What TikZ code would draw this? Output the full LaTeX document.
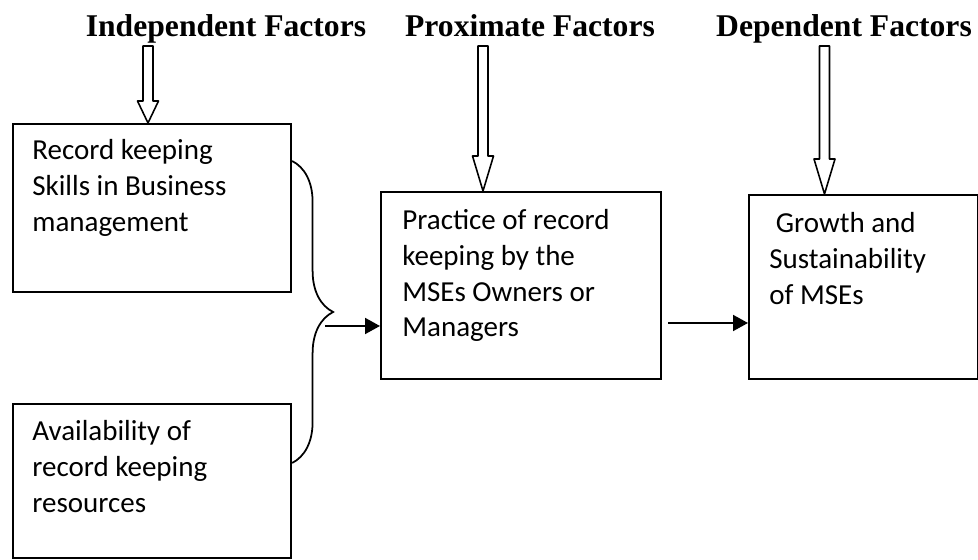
\documentclass[tikz,border=0pt]{standalone}
\usepackage{fontspec}
\setmainfont{Liberation Serif}
\newfontfamily\bodyfont{Carlito}
\usepackage{tikz}
\usetikzlibrary{arrows.meta, positioning, calc, decorations.pathreplacing}
\tikzset{
  factorhead/.style={font=\fontsize{18}{21}\selectfont\bfseries,
    inner sep=0pt, anchor=base},
  factor/.style={rectangle, draw, line width=1.2pt, anchor=north west,
    inner sep=0pt},
  factortext/.style={font=\bodyfont\fontsize{16.5}{20.3}\selectfont,
    align=left, inner sep=0pt, anchor=north west},
  arrow/.style={-{Triangle[length=0.3cm, width=0.32cm]}, line width=1.1pt},
  bracket/.style={decorate, decoration={brace, amplitude=0.82cm},
    line width=1pt},
  hollow/.style={line width=0.9pt, line join=round, to path={
    ($(\tikztostart)+(-0.1,0)$) -- ($(\tikztotarget)+(-0.1,#1)$)
    -- ($(\tikztotarget)+(-0.21,#1)$) -- (\tikztotarget)
    -- ($(\tikztotarget)+(0.21,#1)$) -- ($(\tikztotarget)+(0.1,#1)$)
    -- ($(\tikztostart)+(0.1,0)$) -- cycle}}
}

\begin{document}
\begin{tikzpicture}
  \useasboundingbox (0,0) rectangle (19.56,11.2);
  % Column headings
  \node[factorhead] (indep) at (4.52,10.46) {Independent Factors};
  \node[factorhead] (prox) at (10.6,10.46) {Proximate Factors};
  \node[factorhead] (dep) at (16.88,10.46) {Dependent Factors};

  % Boxes
  \node[factor, minimum width=5.56cm, minimum height=3.36cm] (skills) at (0.24,8.74) {};
  \node[factor, minimum width=5.56cm, minimum height=3.08cm] (resources) at (0.24,3.14) {};
  \node[factor, minimum width=5.6cm, minimum height=3.74cm] (practice) at (7.6,7.38) {};
  \node[factor, minimum width=4.58cm, minimum height=3.68cm] (growth) at (14.96,7.32) {};

  % Box texts
  \node[factortext] (skillstxt) at ($(skills.north west)+(0.4,-0.33)$)
    {Record keeping\\Skills in Business\\management};
  \node[factortext] (restxt) at ($(resources.north west)+(0.4,-0.35)$)
    {Availability of\\record keeping\\resources};
  \node[factortext] (practxt) at ($(practice.north west)+(0.44,-0.37)$)
    {Practice of record\\keeping by the\\MSEs Owners or\\Managers};
  \node[factortext] (growtxt) at ($(growth.north west)+(0.42,-0.37)$)
    {\ Growth and\\Sustainability\\of MSEs};

  % Hollow arrows from headings
  \coordinate (indtop) at (2.96,10.28);
  \coordinate (proxtop) at (9.66,10.28);
  \coordinate (deptop) at (16.49,10.28);
  \draw[hollow=0.44] (indtop) to (indtop |- skills.north);
  \draw[hollow=0.7] (proxtop) to (proxtop |- practice.north);
  \draw[hollow=0.7] (deptop) to (deptop |- growth.north);

  % Brace joining the two independent factors
  \coordinate (bracetop) at ($(skills.north east)+(0,-0.76)$);
  \coordinate (bracebot) at ($(resources.north east)+(0,-1.2)$);
  \draw[bracket] (bracetop) -- (bracebot);

  % Flow arrows
  \coordinate (join) at (6.5,4.68);
  \coordinate (out) at (13.36,4.74);
  \draw[arrow] (join) -- (join -| practice.west);
  \draw[arrow] (out) -- (out -| growth.west);
\end{tikzpicture}
\end{document}
